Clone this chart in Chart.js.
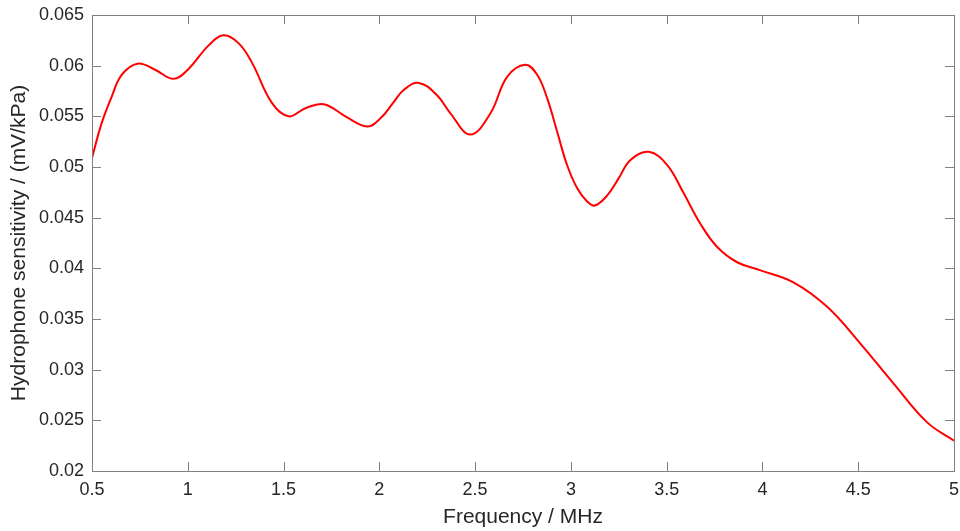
<!DOCTYPE html>
<html>
<head>
<meta charset="utf-8">
<script src="https://cdn.jsdelivr.net/npm/chart.js@4/dist/chart.umd.min.js"></script>
<style>
    html, body { margin: 0; padding: 0; background: #fff; }
    #wrap { width: 960px; height: 531px; }
</style>
</head>
<body>
<div id="wrap"><canvas id="sensitivity-graph"></canvas></div>
<script>
// values
const frequency = [
    0.5, 0.55, 0.602, 0.655, 0.738, 0.829, 0.925, 1.0, 1.109, 1.187,
    1.266, 1.335, 1.44, 1.527, 1.614, 1.71, 1.823, 1.936, 2.006, 2.075,
    2.127, 2.206, 2.30, 2.371, 2.475, 2.58, 2.667, 2.762, 2.824, 2.876,
    2.928, 2.98, 3.033, 3.085, 3.125, 3.19, 3.25, 3.311, 3.407, 3.502,
    3.589, 3.676, 3.764, 3.868, 3.99, 4.164, 4.338, 4.51, 4.686, 4.86,
    5.0
];
const sensitivity = [
    0.0509, 0.0543, 0.0569, 0.0591, 0.0602, 0.0596, 0.0587, 0.0596, 0.0620, 0.0630,
    0.0622, 0.0603, 0.0563, 0.0550, 0.0558, 0.0562, 0.0550, 0.0540, 0.0548, 0.0564,
    0.0576, 0.0583, 0.0571, 0.0553, 0.0532, 0.0553, 0.0589, 0.0601, 0.0591, 0.0568,
    0.0535, 0.0502, 0.0479, 0.0466, 0.0462, 0.0472, 0.0489, 0.0507, 0.0515, 0.0502,
    0.0474, 0.0444, 0.0421, 0.0406, 0.0398, 0.0386, 0.0362, 0.0326, 0.0286, 0.0248,
    0.0230
];
const xRange = [0.5, 5];
const xStep = 0.5;
const yRange = [0.02, 0.065];
const yStep = 0.005;

const xTitle = 'Frequency / MHz';
const yTitle = 'Hydrophone sensitivity / (mV/kPa)';

const axisColor = '#808080';
const textColor = '#262626';
const tickLen = 9;

// MATLAB style box with inward ticks on all four sides
const boxTicks = {
    id: 'boxTicks',
    afterDatasetsDraw(chart) {
        const { ctx, chartArea: a, scales } = chart;
        ctx.save();
        ctx.strokeStyle = axisColor;
        ctx.lineWidth = 1;
        ctx.beginPath();
        scales.x.ticks.forEach(t => {
            const px = Math.round(scales.x.getPixelForValue(t.value)) + 0.5;
            ctx.moveTo(px, a.bottom); ctx.lineTo(px, a.bottom - tickLen);
            ctx.moveTo(px, a.top); ctx.lineTo(px, a.top + tickLen);
        });
        scales.y.ticks.forEach(t => {
            const py = Math.round(scales.y.getPixelForValue(t.value)) + 0.5;
            ctx.moveTo(a.left, py); ctx.lineTo(a.left + tickLen, py);
            ctx.moveTo(a.right, py); ctx.lineTo(a.right - tickLen, py);
        });
        ctx.stroke();
        ctx.strokeRect(Math.round(a.left) + 0.5, Math.round(a.top) + 0.5,
            Math.round(a.right - a.left), Math.round(a.bottom - a.top));
        ctx.restore();
    }
};

const fmt = v => String(Number(v.toFixed(3)));

const sensitivityChart = document.getElementById('sensitivity-graph');

let sensitivityGraph = new Chart(sensitivityChart, {
    type: 'line',
    data: {
        datasets: [{
            data: frequency.map((f, i) => ({ x: f, y: sensitivity[i] })),
            borderColor: '#ff0000',
            borderWidth: 2,
            pointRadius: 0,
            fill: false,
            tension: 0.4
        }]
    },
    options: {
        responsive: true,
        maintainAspectRatio: false,
        animation: false,
        layout: { padding: 0 },
        plugins: {
            legend: { display: false },
            tooltip: { enabled: false }
        },
        scales: {
            x: {
                type: 'linear',
                min: xRange[0],
                max: xRange[1],
                afterFit: s => {
                    s.height = 60;
                    s.paddingLeft = 0;
                    s.paddingRight = 6;
                },
                border: { display: false },
                grid: { display: false, drawTicks: false },
                ticks: {
                    stepSize: xStep,
                    padding: 8,
                    color: textColor,
                    font: { family: 'Liberation Sans, Arial, sans-serif', size: 18 },
                    maxRotation: 0,
                    callback: v => fmt(v)
                },
                title: {
                    display: true,
                    text: xTitle,
                    color: textColor,
                    font: { family: 'Liberation Sans, Arial, sans-serif', size: 21 },
                    padding: { top: 0, bottom: 1 }
                }
            },
            y: {
                min: yRange[0],
                max: yRange[1],
                afterFit: s => {
                    s.width = 92;
                    s.paddingTop = 15;
                    s.paddingBottom = 0;
                },
                border: { display: false },
                grid: { display: false, drawTicks: false },
                ticks: {
                    stepSize: yStep,
                    padding: 8,
                    color: textColor,
                    font: { family: 'Liberation Sans, Arial, sans-serif', size: 18 },
                    callback: v => fmt(v)
                },
                title: {
                    display: true,
                    text: yTitle,
                    color: textColor,
                    font: { family: 'Liberation Sans, Arial, sans-serif', size: 21 },
                    padding: { top: 7, bottom: 0 }
                }
            }
        }
    },
    plugins: [boxTicks]
});
</script>
</body>
</html>
